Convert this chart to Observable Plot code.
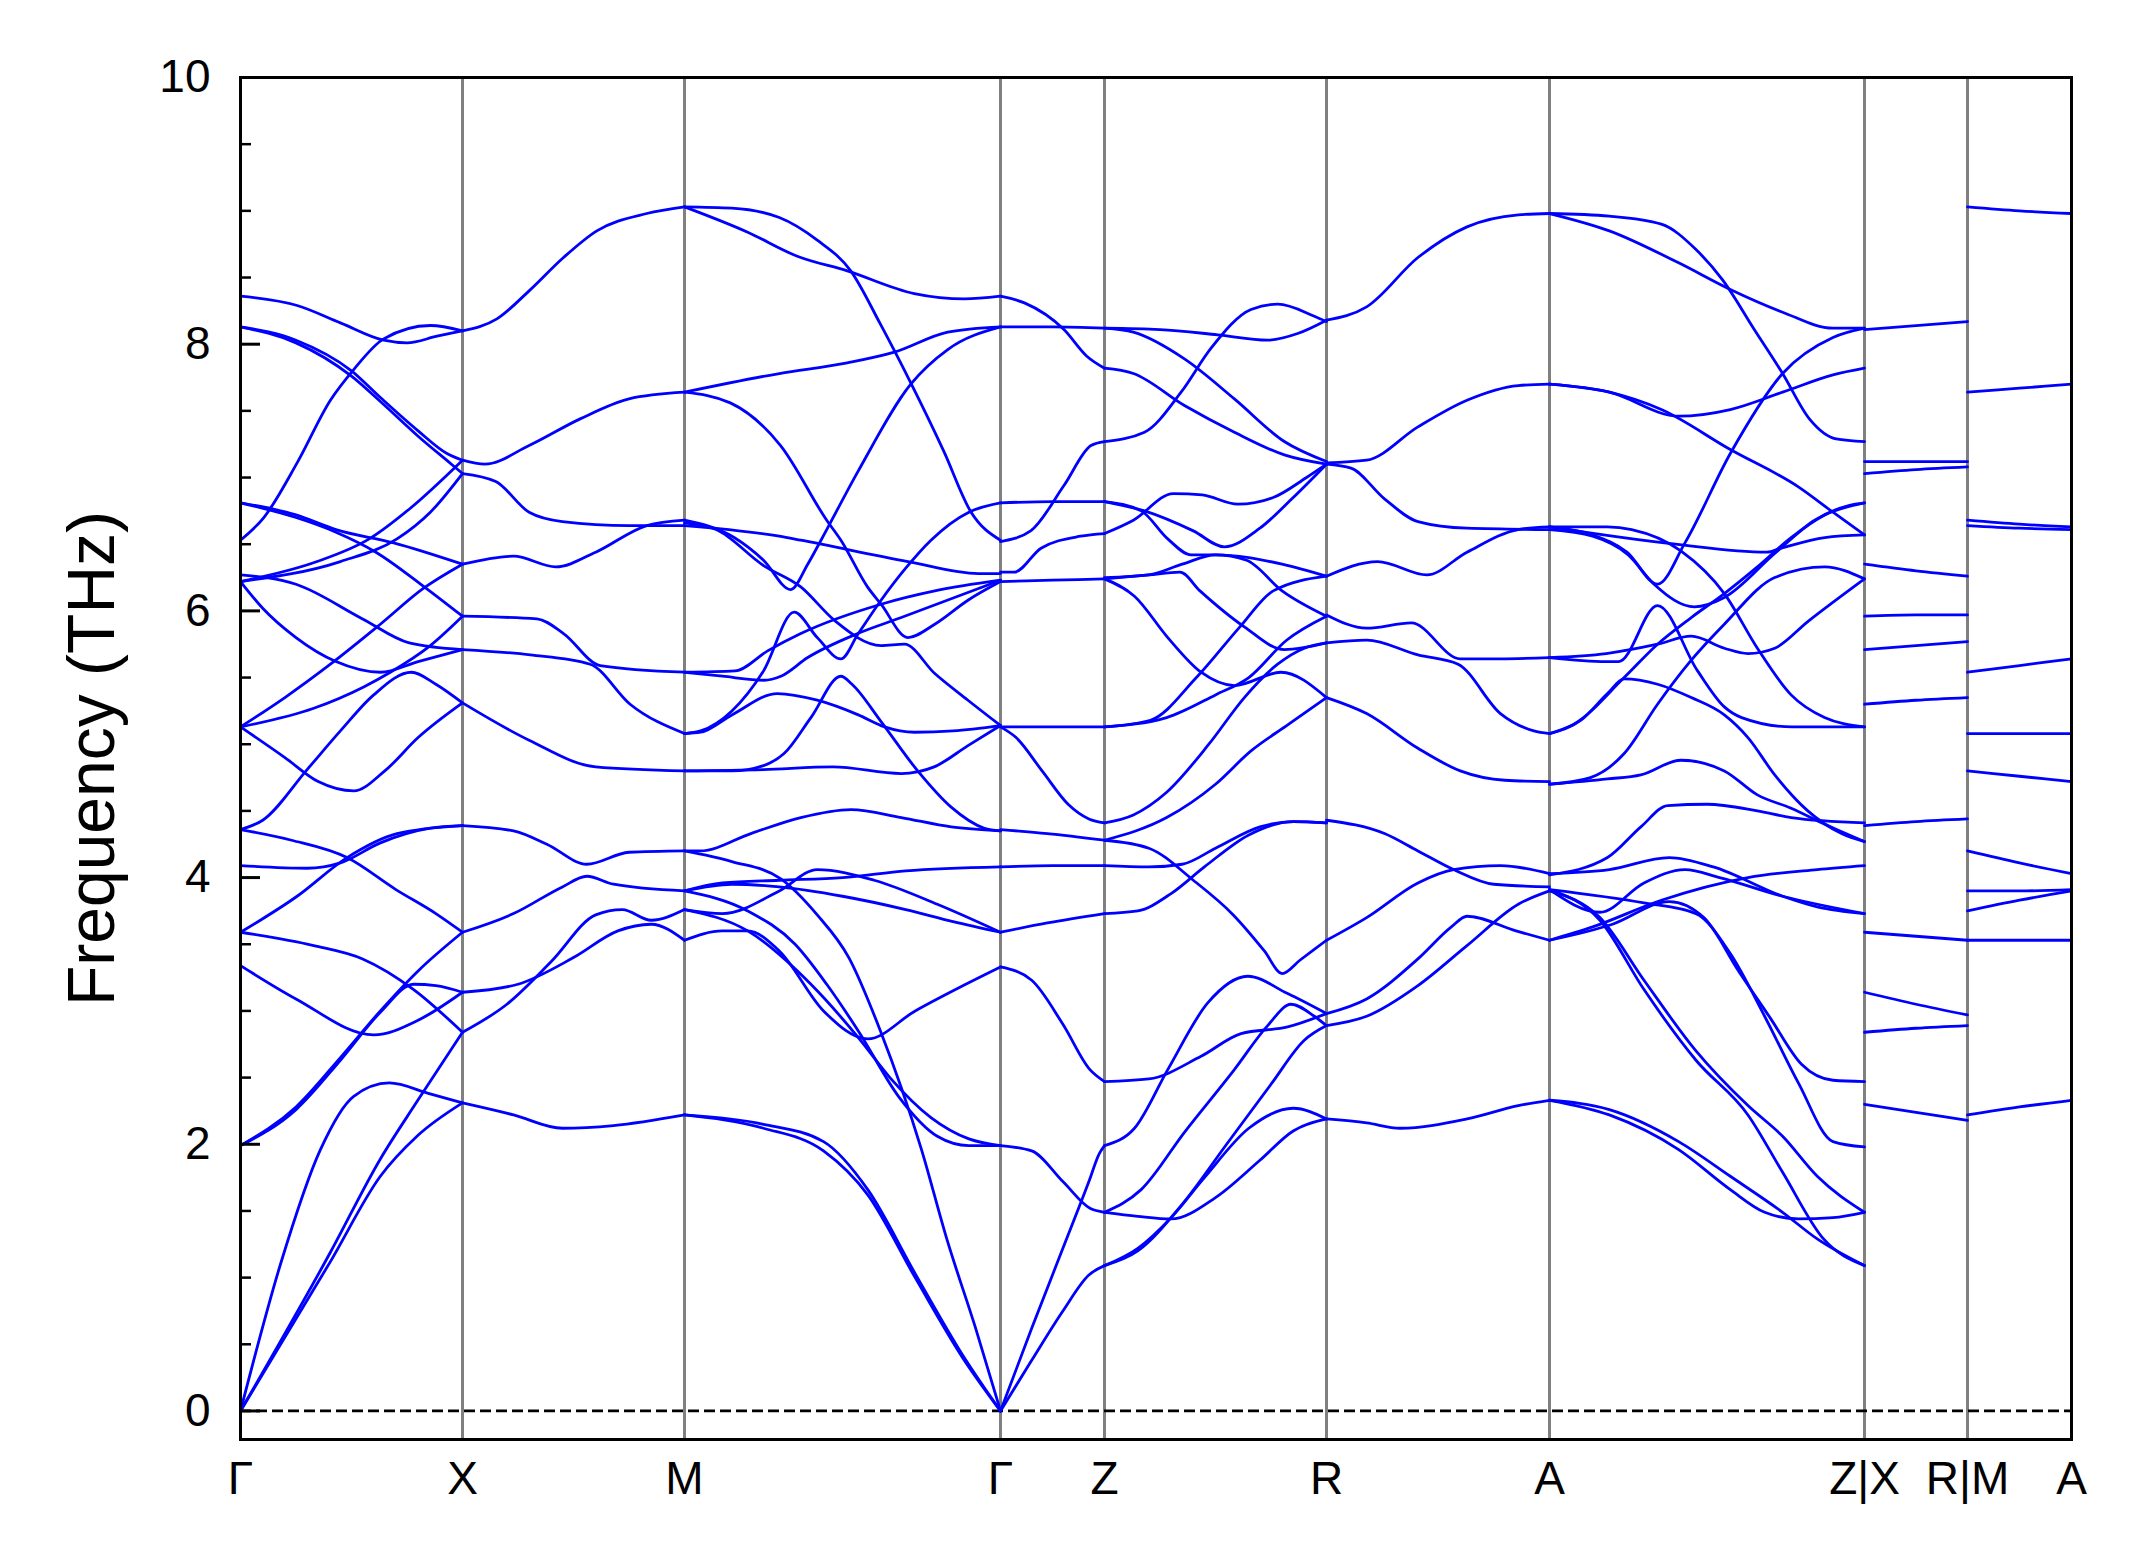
<!DOCTYPE html>
<html><head><meta charset="utf-8">
<script src="https://cdn.jsdelivr.net/npm/d3@7"></script>
<script src="https://cdn.jsdelivr.net/npm/@observablehq/plot@0.6"></script>
<style>html,body{margin:0;padding:0;background:#fff;}</style>
</head><body>
<div id="chart"></div>
<script>
// High-symmetry path
const nodeLabels = ["Γ","X","M","Γ","Z","R","A","Z|X","R|M","A"];
const nodePos = [0, 222, 444, 760, 864, 1086, 1309, 1624, 1727, 1831];
const yTicks = [0, 2, 4, 6, 8, 10];
const yMinorTicks = [0.5, 1, 1.5, 2.5, 3, 3.5, 4.5, 5, 5.5, 6.5, 7, 7.5, 8.5, 9, 9.5];
const yTitle = "Frequency (THz)";

// Bands per segment: [t0, f0, t1, f1, ...], t = fraction along the segment, f in THz
const bandsGX = [
 [0,8.36, .255,8.29, .45,8.16, .645,8.03, .75,8.01, .885,8.06, 1,8.10],
 [0,6.53, .105,6.70, .255,7.11, .405,7.58, .51,7.81, .645,8.04, .855,8.14, 1,8.10],
 [0,8.13, .25,8.03, .5,7.80, .63,7.60, .8,7.35, .93,7.18, 1,7.13],
 [0,8.13, .25,8.01, .5,7.76, .63,7.57, .8,7.31, .95,7.10, 1,7.03],
 [0,6.81, .25,6.72, .43,6.61, .69,6.51, 1,6.35],
 [0,6.81, .25,6.70, .43,6.59, .61,6.44, .82,6.19, 1,5.96],
 [0,6.22, .345,6.37, .58,6.54, .765,6.77, 1,7.13],
 [0,6.22, .45,6.37, .705,6.54, .855,6.74, 1,7.03],
 [0,6.27, .25,6.20, .55,5.94, .76,5.76, 1,5.71],
 [0,6.22, .1,6.02, .25,5.80, .43,5.62, .63,5.54, .8,5.62, 1,5.71],
 [0,5.13, .2,5.35, .405,5.60, .63,5.90, .825,6.17, 1,6.35],
 [0,5.13, .33,5.27, .555,5.43, .675,5.54, .855,5.74, 1,5.96],
 [0,5.13, .2,4.90, .35,4.72, .51,4.65, .65,4.80, .8,5.05, 1,5.31],
 [0,4.36, .1,4.43, .3,4.81, .45,5.10, .6,5.37, .77,5.54, .88,5.45, 1,5.31],
 [0,4.09, .3,4.07, .45,4.11, .63,4.26, .855,4.37, 1,4.39],
 [0,3.59, .255,3.86, .48,4.15, .705,4.33, 1,4.39],
 [0,4.36, .23,4.28, .48,4.15, .7,3.91, .88,3.73, 1,3.59],
 [0,3.59, .33,3.49, .55,3.39, .78,3.16, 1,2.84],
 [0,3.34, .25,3.09, .6,2.82, .8,2.93, 1,3.14],
 [0,1.99, .25,2.26, .45,2.63, .63,2.99, .78,3.20, .88,3.19, 1,3.14],
 [0,1.99, .25,2.28, .45,2.65, .63,3.00, .8,3.30, 1,3.59],
 [0,0, .18,1.10, .36,1.96, .51,2.36, .67,2.46, .85,2.38, 1,2.31],
 [0,0, .405,1.19, .63,1.89, .795,2.32, 1,2.84],
 [0,0, .405,1.12, .63,1.76, .795,2.06, 1,2.31]
];
const bandsXM = [
 [0,8.10, .155,8.19, .3,8.40, .455,8.65, .605,8.85, .83,8.98, 1,9.03],
 [0,7.13, .1,7.10, .3,7.24, .53,7.44, .75,7.59, 1,7.64],
 [0,7.03, .15,6.97, .3,6.74, .45,6.67, .75,6.64, 1,6.64],
 [0,6.35, .23,6.41, .42,6.33, .6,6.44, .83,6.64, 1,6.68],
 [0,5.96, .335,5.94, .455,5.83, .62,5.59, 1,5.54],
 [0,5.71, .305,5.67, .575,5.60, .755,5.30, 1,5.08],
 [0,5.31, .3,5.03, .6,4.83, 1,4.80],
 [0,4.39, .23,4.35, .38,4.25, .56,4.10, .75,4.19, 1,4.20],
 [0,3.59, .23,3.73, .45,3.93, .56,4.01, .68,3.95, 1,3.90],
 [0,3.14, .25,3.20, .5,3.40, .7,3.60, .85,3.65, 1,3.53],
 [0,2.84, .2,3.05, .4,3.37, .6,3.72, .72,3.76, .85,3.68, 1,3.76],
 [0,2.31, .23,2.22, .45,2.12, .68,2.14, 1,2.22]
];
const bandsMG = [
 [0,9.03, .15,9.02, .3,8.95, .42,8.78, .526,8.55, .62,8.15, .716,7.71, .82,7.20, .907,6.74, 1,6.53],
 [0,9.03, .2,8.84, .357,8.66, .515,8.55, .727,8.38, .886,8.34, 1,8.36],
 [0,7.64, .3,7.78, .515,7.86, .664,7.94, .833,8.09, 1,8.13],
 [0,7.64, .145,7.56, .304,7.24, .45,6.68, .495,6.53, .579,6.18, .622,6.05, .707,5.80, .792,5.90, .897,6.08, 1,6.22],
 [0,6.64, .3,6.56, .368,6.53, .707,6.37, .93,6.28, 1,6.28],
 [0,6.68, .157,6.55, .25,6.38, .336,6.16, .39,6.35, .432,6.53, .55,7.05, .716,7.70, .833,7.96, 1,8.13],
 [0,6.66, .1,6.61, .25,6.34, .368,6.18, .474,5.93, .622,5.74, .696,5.75, .792,5.53, .897,5.33, 1,5.14],
 [0,5.54, .16,5.55, .263,5.70, .368,5.83, .622,6.05, .792,6.15, 1,6.23],
 [0,5.54, .12,5.51, .252,5.48, .305,5.51, .39,5.65, .548,5.83, .686,5.95, 1,6.23],
 [0,5.08, .051,5.10, .15,5.25, .25,5.55, .347,5.99, .42,5.80, .495,5.64, .55,5.83, .622,6.08, .7,6.32, .78,6.53, .9,6.74, 1,6.81],
 [0,5.08, .051,5.09, .15,5.22, .294,5.38, .42,5.33, .55,5.22, .633,5.13, .728,5.09, .85,5.10, 1,5.14],
 [0,4.80, .15,4.80, .25,4.84, .315,4.93, .4,5.20, .495,5.51, .53,5.45, .622,5.17, .738,4.80, .843,4.53, .949,4.37, 1,4.35],
 [0,4.80, .25,4.81, .47,4.83, .686,4.78, .79,4.83, .897,4.99, 1,5.14],
 [0,4.20, .05,4.20, .21,4.33, .368,4.45, .527,4.51, .686,4.45, .844,4.38, 1,4.35],
 [0,3.90, .12,3.96, .3,3.98, .5,4.00, .7,4.05, 1,4.08],
 [0,3.76, .12,3.73, .3,3.90, .42,4.06, .6,3.98, .8,3.80, 1,3.59],
 [0,3.53, .12,3.60, .2,3.60, .3,3.45, .44,3.00, .58,2.79, .73,3.00, .89,3.20, 1,3.33],
 [0,3.90, .15,3.95, .3,3.93, .5,3.86, .7,3.76, .85,3.67, 1,3.59],
 [0,4.20, .15,4.12, .305,3.99, .42,3.72, .52,3.40, .62,2.85, .75,1.96, .83,1.29, .92,0.63, 1,0],
 [0,3.90, .2,3.75, .35,3.50, .45,3.20, .55,2.85, .68,2.35, .8,2.06, .9,1.99, 1,1.99],
 [0,3.76, .2,3.60, .4,3.20, .55,2.80, .65,2.50, .78,2.20, .9,2.04, 1,1.99],
 [0,2.22, .25,2.15, .44,2.02, .58,1.66, .73,1.03, .88,0.42, 1,0],
 [0,2.22, .25,2.12, .44,1.95, .58,1.62, .73,1.00, .88,0.40, 1,0]
];
const bandsGZ = [
 [0,8.36, .23,8.31, .61,8.11, .83,7.91, 1,7.82],
 [0,8.13, .5,8.13, 1,8.12],
 [0,6.52, .29,6.60, .61,6.94, .87,7.24, 1,7.27],
 [0,6.81, .5,6.82, 1,6.82],
 [0,6.29, .13,6.29, .39,6.47, .77,6.56, 1,6.58],
 [0,6.22, .5,6.23, 1,6.24],
 [0,5.13, .5,5.13, 1,5.13],
 [0,5.13, .15,5.05, .4,4.80, .65,4.55, .85,4.44, 1,4.41],
 [0,4.36, .45,4.33, 1,4.28],
 [0,4.08, .5,4.09, 1,4.09],
 [0,3.59, .45,3.66, 1,3.73],
 [0,3.33, .3,3.23, .6,2.90, .86,2.56, 1,2.47],
 [0,1.99, .3,1.95, .6,1.72, .86,1.52, 1,1.49],
 [0,0, .3,0.62, .6,1.22, .85,1.72, .95,1.93, 1,1.99],
 [0,0, .3,0.38, .6,0.75, .85,1.02, 1,1.09]
];
const bandsZR = [
 [0,8.12, .25,8.11, .51,8.07, .735,8.03, .87,8.08, 1,8.18],
 [0,7.27, .18,7.34, .345,7.64, .48,7.97, .66,8.26, .78,8.30, .945,8.21, 1,8.17],
 [0,8.12, .13,8.09, .36,7.89, .585,7.59, .81,7.27, 1,7.12],
 [0,7.82, .13,7.78, .36,7.54, .585,7.34, .81,7.17, 1,7.10],
 [0,6.82, .18,6.75, .4,6.60, .54,6.48, .7,6.62, .85,6.85, 1,7.10],
 [0,6.58, .13,6.68, .31,6.88, .44,6.87, .6,6.80, .76,6.85, .91,7.00, 1,7.10],
 [0,6.82, .165,6.75, .285,6.54, .39,6.42, .5,6.42, .64,6.38, .8,6.15, 1,5.96],
 [0,6.25, .2,6.27, .35,6.35, .5,6.42, .65,6.40, .8,6.35, 1,6.26],
 [0,6.24, .2,6.27, .34,6.29, .43,6.15, .63,5.88, .81,5.71, 1,5.76],
 [0,6.24, .135,6.11, .285,5.80, .435,5.54, .585,5.44, .795,5.54, 1,5.35],
 [0,5.13, .207,5.18, .414,5.50, .61,5.88, .76,6.15, 1,6.26],
 [0,5.13, .28,5.20, .5,5.37, .65,5.50, .82,5.78, 1,5.96],
 [0,4.41, .13,4.47, .28,4.64, .47,5.00, .63,5.35, .78,5.60, .9,5.72, 1,5.76],
 [0,4.28, .28,4.45, .5,4.70, .66,4.95, .83,5.15, 1,5.35],
 [0,4.28, .2,4.22, .4,3.98, .58,3.72, .72,3.45, .8,3.28, .88,3.38, 1,3.53],
 [0,4.09, .2,4.08, .35,4.10, .5,4.22, .7,4.38, .85,4.42, 1,4.41],
 [0,3.73, .15,3.75, .3,3.88, .45,4.08, .65,4.32, .85,4.42, 1,4.41],
 [0,2.47, .2,2.49, .435,2.66, .615,2.83, .825,2.88, 1,2.98],
 [0,1.99, .135,2.12, .285,2.56, .465,3.06, .645,3.26, .825,3.13, 1,2.98],
 [0,1.49, .165,1.66, .36,2.09, .585,2.56, .735,2.89, .84,3.05, .945,2.96, 1,2.89],
 [0,1.49, .15,1.46, .3,1.44, .5,1.60, .7,1.88, .85,2.10, 1,2.19],
 [0,1.09, .15,1.22, .3,1.45, .45,1.75, .65,2.12, .85,2.27, 1,2.19],
 [0,1.09, .15,1.20, .35,1.55, .55,2.00, .75,2.45, .9,2.78, 1,2.89]
];
const bandsRA = [
 [0,8.18, .18,8.28, .41,8.65, .63,8.88, .86,8.97, 1,8.98],
 [0,7.11, .18,7.13, .41,7.38, .63,7.58, .86,7.69, 1,7.70],
 [0,7.10, .11,7.07, .26,6.84, .41,6.67, .63,6.62, 1,6.61],
 [0,6.26, .23,6.37, .45,6.27, .63,6.44, .86,6.61, 1,6.63],
 [0,5.97, .18,5.87, .38,5.91, .6,5.64, .78,5.64, 1,5.65],
 [0,5.76, .18,5.78, .41,5.67, .59,5.60, .78,5.23, .93,5.10, 1,5.08],
 [0,5.35, .18,5.23, .41,4.97, .6,4.80, .8,4.73, 1,4.72],
 [0,3.53, .18,3.70, .41,3.96, .57,4.06, .78,4.09, 1,4.03],
 [0,4.43, .26,4.33, .41,4.20, .57,4.06, .75,3.95, 1,3.93],
 [0,2.98, .18,3.09, .41,3.39, .56,3.63, .63,3.71, .85,3.60, 1,3.53],
 [0,2.89, .18,2.96, .41,3.19, .63,3.49, .86,3.80, 1,3.90],
 [0,2.19, .18,2.16, .33,2.12, .63,2.19, .86,2.29, 1,2.33]
];
const bandsAZ = [
 [0,8.98, .19,8.96, .355,8.90, .465,8.71, .55,8.48, .65,8.11, .74,7.78, .825,7.44, .91,7.29, 1,7.27],
 [0,8.98, .19,8.85, .41,8.61, .574,8.41, .74,8.24, .9,8.12, 1,8.12],
 [0,7.70, .19,7.64, .41,7.46, .574,7.51, .74,7.64, .9,7.77, 1,7.82],
 [0,7.70, .19,7.64, .355,7.51, .574,7.21, .79,6.93, .9,6.74, 1,6.57],
 [0,6.63, .137,6.57, .246,6.44, .343,6.20, .43,6.51, .574,7.18, .74,7.78, .9,8.05, 1,8.12],
 [0,6.61, .137,6.56, .25,6.42, .332,6.20, .46,6.03, .555,6.10, .715,6.43, .842,6.68, .95,6.79, 1,6.81],
 [0,6.63, .184,6.63, .261,6.61, .417,6.45, .555,6.13, .66,5.72, .767,5.37, .873,5.20, 1,5.13],
 [0,6.63, .4,6.50, .69,6.44, .735,6.47, .874,6.55, 1,6.57],
 [0,5.65, .18,5.62, .22,5.62, .343,6.04, .47,5.55, .555,5.28, .61,5.20, .77,5.13, 1,5.13],
 [0,5.65, .18,5.68, .343,5.75, .45,5.81, .555,5.72, .63,5.68, .715,5.72, .82,5.92, 1,6.24],
 [0,5.08, .077,5.15, .237,5.50, .343,5.75, .45,5.95, .555,6.13, .66,6.33, .767,6.55, .874,6.72, 1,6.81],
 [0,5.08, .1,5.18, .184,5.38, .237,5.49, .343,5.45, .45,5.35, .555,5.22, .63,5.05, .715,4.77, .82,4.50, .927,4.33, 1,4.27],
 [0,4.70, .184,4.74, .29,4.77, .417,4.88, .555,4.80, .66,4.62, .767,4.52, .874,4.40, 1,4.27],
 [0,4.70, .13,4.75, .237,4.93, .343,5.30, .45,5.63, .555,5.90, .715,6.25, .874,6.33, 1,6.24],
 [0,4.02, .184,4.15, .29,4.38, .375,4.54, .5,4.55, .66,4.50, .767,4.45, 1,4.41],
 [0,4.03, .19,4.06, .38,4.15, .52,4.08, .74,3.86, .85,3.78, 1,3.73],
 [0,3.91, .16,3.74, .3,3.96, .43,4.06, .54,4.00, .74,3.86, 1,3.73],
 [0,3.53, .137,3.63, .355,3.83, .63,4.00, .85,4.06, 1,4.09],
 [0,3.91, .16,3.68, .3,3.16, .465,2.63, .63,2.22, .74,1.79, .87,1.29, 1,1.09],
 [0,3.90, .16,3.70, .3,3.23, .465,2.70, .63,2.29, .74,2.06, .85,1.76, 1,1.49],
 [0,3.91, .3,3.81, .465,3.73, .574,3.43, .683,2.96, .79,2.46, .9,2.02, 1,1.98],
 [0,3.53, .2,3.65, .38,3.82, .49,3.70, .6,3.30, .7,2.95, .8,2.60, .9,2.48, 1,2.47],
 [0,2.33, .19,2.26, .41,2.02, .574,1.76, .74,1.49, .85,1.29, 1,1.09],
 [0,2.33, .19,2.22, .41,1.96, .574,1.66, .683,1.49, .79,1.44, .9,1.45, 1,1.49]
];
const bandsXR = [
 [0,8.11, .5,8.14, 1,8.17],
 [0,7.12, .5,7.12, 1,7.12],
 [0,7.03, .5,7.06, 1,7.08],
 [0,6.35, .5,6.30, 1,6.26],
 [0,5.96, .5,5.97, 1,5.97],
 [0,5.71, .5,5.74, 1,5.77],
 [0,5.30, .5,5.33, 1,5.35],
 [0,4.39, .5,4.42, 1,4.44],
 [0,3.59, .5,3.56, 1,3.53],
 [0,3.14, .5,3.05, 1,2.97],
 [0,2.84, .5,2.87, 1,2.89],
 [0,2.30, .5,2.24, 1,2.18]
];
const bandsMA = [
 [0,9.03, .5,9.00, 1,8.98],
 [0,7.64, .5,7.67, 1,7.70],
 [0,6.68, .5,6.65, 1,6.63],
 [0,6.64, .5,6.62, 1,6.61],
 [0,5.54, .5,5.59, 1,5.64],
 [0,5.08, .5,5.08, 1,5.08],
 [0,4.80, .5,4.76, 1,4.72],
 [0,4.20, .5,4.11, 1,4.03],
 [0,3.90, .5,3.90, 1,3.91],
 [0,3.75, .5,3.83, 1,3.90],
 [0,3.53, .5,3.53, 1,3.53],
 [0,2.22, .5,2.28, 1,2.33]
];

const segments = [bandsGX, bandsXM, bandsMG, bandsGZ, bandsZR, bandsRA, bandsAZ, bandsXR, bandsMA];

const rows = [];
segments.forEach((bands, si) => {
  const x0 = nodePos[si], x1 = nodePos[si + 1];
  bands.forEach((b, bi) => {
    for (let k = 0; k < b.length; k += 2) {
      rows.push({id: si + "-" + bi, x: x0 + b[k] * (x1 - x0), f: b[k + 1]});
    }
  });
});

const labelAt = new Map(nodePos.map((p, i) => [p, nodeLabels[i]]));

const chart = Plot.plot({
  width: 2145,
  height: 1567,
  marginLeft: 240,
  marginRight: 74,
  marginTop: 77,
  marginBottom: 128,
  style: {fontFamily: "'Liberation Sans', Arial, Helvetica, sans-serif", fontSize: "46px", background: "#fff", color: "#000"},
  x: {domain: [nodePos[0], nodePos[nodePos.length - 1]], ticks: nodePos, tickFormat: d => labelAt.get(d), tickSize: 0, tickPadding: 22, label: null},
  y: {domain: [-0.214, 10], ticks: yTicks, tickSize: 0, tickPadding: 30, label: null},
  marks: [
    Plot.ruleX(nodePos.slice(1, -1), {stroke: "#808080", strokeWidth: 3}),
    Plot.ruleY([0], {stroke: "#000", strokeWidth: 2.8, strokeDasharray: "11,5"}),
    Plot.line(rows, {x: "x", y: "f", z: "id", stroke: "#0000ff", strokeWidth: 2.8, curve: "monotone-x"}),
    Plot.ruleY(yTicks, {x1: 0, x2: 20, stroke: "#000", strokeWidth: 3}),
    Plot.ruleY(yMinorTicks, {x1: 0, x2: 11, stroke: "#000", strokeWidth: 2.5}),
    Plot.frame({stroke: "#000", strokeWidth: 3}),
    Plot.text([yTitle], {frameAnchor: "left", rotate: -90, dx: -148, textAnchor: "middle", lineAnchor: "middle", fontSize: 66, text: d => d, fill: "#000"})
  ]
});
document.getElementById("chart").appendChild(chart);
</script>
</body></html>
